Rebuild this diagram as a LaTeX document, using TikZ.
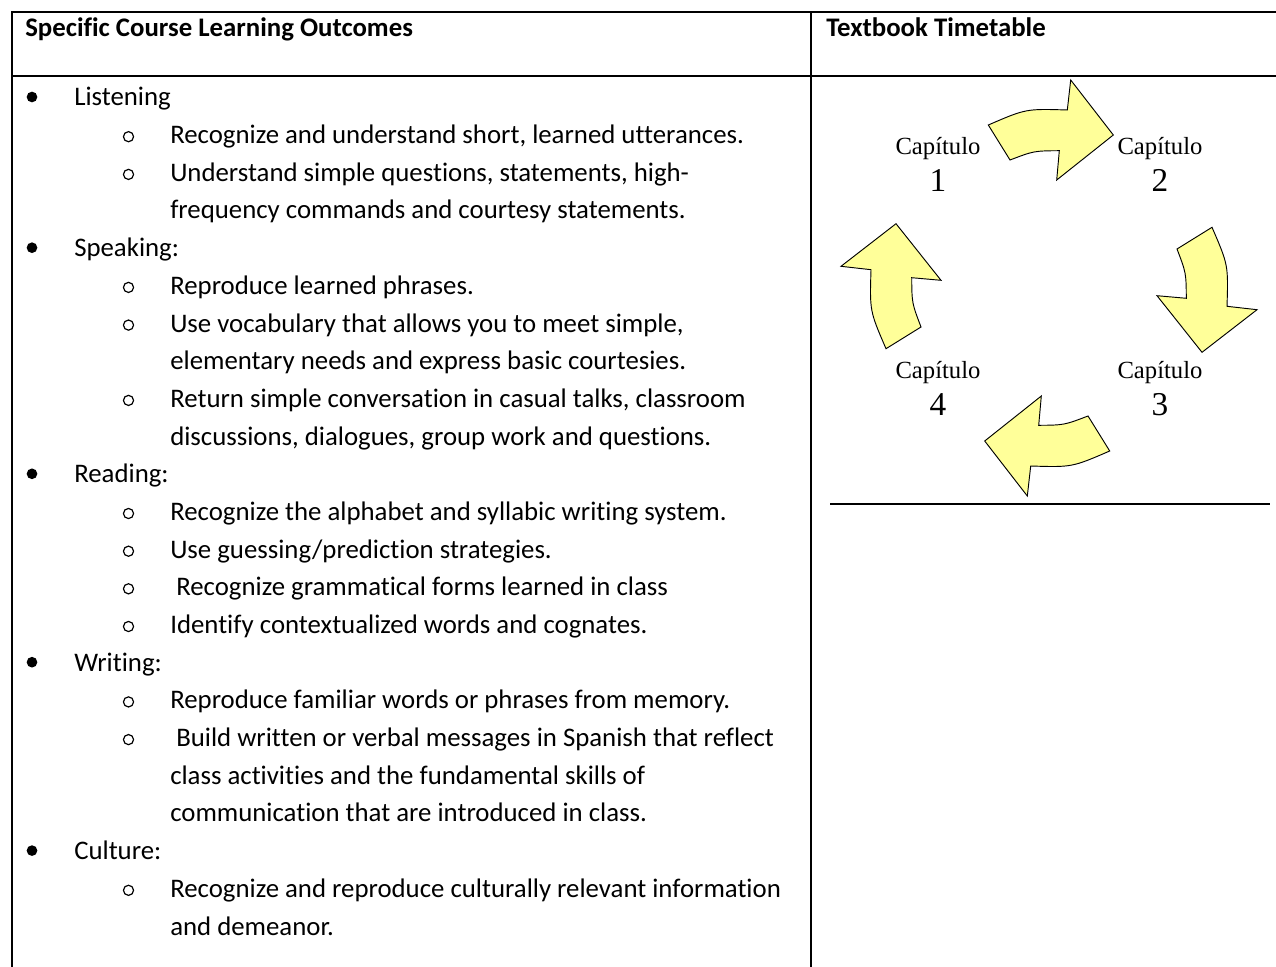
\documentclass[tikz,border=0pt]{standalone}
\usepackage{fontspec}
\setmainfont{Carlito}[Ligatures={NoCommon}]
\newfontfamily\capfont{Liberation Serif}
\definecolor{arrowyellow}{RGB}{255,255,153}
\tikzset{
  rule/.style={line width=1.3pt, line cap=rect},
  picrule/.style={line width=1pt},
  head/.style={anchor=base west, inner sep=0pt, font=\fontsize{20.1}{24}\selectfont\bfseries},
  txt/.style={anchor=base west, inner sep=0pt, font=\fontsize{20.1}{24}\selectfont},
  dotbullet/.style={circle, fill=black, inner sep=0pt, minimum size=8pt},
  ringbullet/.style={circle, draw=black, line width=0.9pt, inner sep=0pt, minimum size=7.6pt},
  cyclearrow/.style={draw=black, line width=0.7pt, fill=arrowyellow, line join=miter},
  capword/.style={anchor=base, inner sep=0pt, font=\capfont\fontsize{18.5}{22}\selectfont},
  capnum/.style={anchor=base, inner sep=0pt, font=\capfont\fontsize{25}{30}\selectfont},
}
\begin{document}
\begin{tikzpicture}[x=0.75pt, y=-0.75pt]
\useasboundingbox (0,0) rectangle (1276,966);
% table rules
\draw[rule] (12,12) -- (1276,12);
\draw[rule] (12,12) -- (12,966);
\draw[rule] (811,12) -- (811,966);
\draw[rule] (12,76) -- (829,76);
\draw[rule] (1272,76) -- (1276,76);
% embedded picture frame
\draw[picrule] (830,76) -- (1272,76);
\draw[line width=1.5pt] (830,504) -- (1270,504);
% headers
\node[head] (h1) at (25,37) {Specific Course Learning Outcomes};
\node[head] (h2) at (826,37) {Textbook Timetable};
% list
\def\B#1#2#3{\node[dotbullet] (b#1) at (32,#2-9) {}; \node[txt] (t#1) at (74,#2) {#3};}
\def\O#1#2#3{\node[ringbullet] (b#1) at (128.5,#2-7) {}; \node[txt] (t#1) at (170,#2) {#3};}
\def\Os#1#2#3{\node[ringbullet] (b#1) at (128.5,#2-7) {}; \node[txt] (t#1) at (176,#2) {#3};}
\def\C#1#2#3{\node[txt] (t#1) at (170,#2) {#3};}
\B{0}{106}{Listening}
\O{1}{143.7}{Recognize and understand short, learned utterances.}
\O{2}{181.4}{Understand simple questions, statements, high-}
\C{3}{219.0}{frequency commands and courtesy statements.}
\B{4}{256.7}{Speaking:}
\O{5}{294.4}{Reproduce learned phrases.}
\O{6}{332.1}{Use vocabulary that allows you to meet simple,}
\C{7}{369.8}{elementary needs and express basic courtesies.}
\O{8}{407.4}{Return simple conversation in casual talks, classroom}
\C{9}{445.1}{discussions, dialogues, group work and questions.}
\B{10}{482.8}{Reading:}
\O{11}{520.5}{Recognize the alphabet and syllabic writing system.}
\O{12}{558.2}{Use guessing/prediction strategies.}
\Os{13}{595.8}{Recognize grammatical forms learned in class}
\O{14}{633.5}{Identify contextualized words and cognates.}
\B{15}{671.2}{Writing:}
\O{16}{708.9}{Reproduce familiar words or phrases from memory.}
\Os{17}{746.6}{Build written or verbal messages in Spanish that reflect}
\C{18}{784.2}{class activities and the fundamental skills of}
\C{19}{821.9}{communication that are introduced in class.}
\B{20}{859.6}{Culture:}
\O{21}{897.3}{Recognize and reproduce culturally relevant information}
\C{22}{935.0}{and demeanor.}
% cycle arrows
\foreach \r in {0,-90,-180,-270} {
  \begin{scope}[shift={(1049,288)}, rotate=\r]
    \draw[cyclearrow] (-60.7,-163) -- (-39,-128)
      .. controls (-15.1,-137.1) .. (10.3,-137.3)
      -- (7.7,-108) -- (64.3,-153) -- (21.7,-208) -- (18.3,-178)
      .. controls (-23,-179.3) .. (-60.7,-163) -- cycle;
  \end{scope}
}
% chapter labels
\node[capword] (c1w) at (938,155) {Capítulo};
\node[capnum] (c1n) at (938,192) {1};
\node[capword] (c2w) at (1160,155) {Capítulo};
\node[capnum] (c2n) at (1160,192) {2};
\node[capword] (c3w) at (1160,378) {Capítulo};
\node[capnum] (c3n) at (1160,415) {3};
\node[capword] (c4w) at (938,378) {Capítulo};
\node[capnum] (c4n) at (938,415) {4};
\end{tikzpicture}
\end{document}
